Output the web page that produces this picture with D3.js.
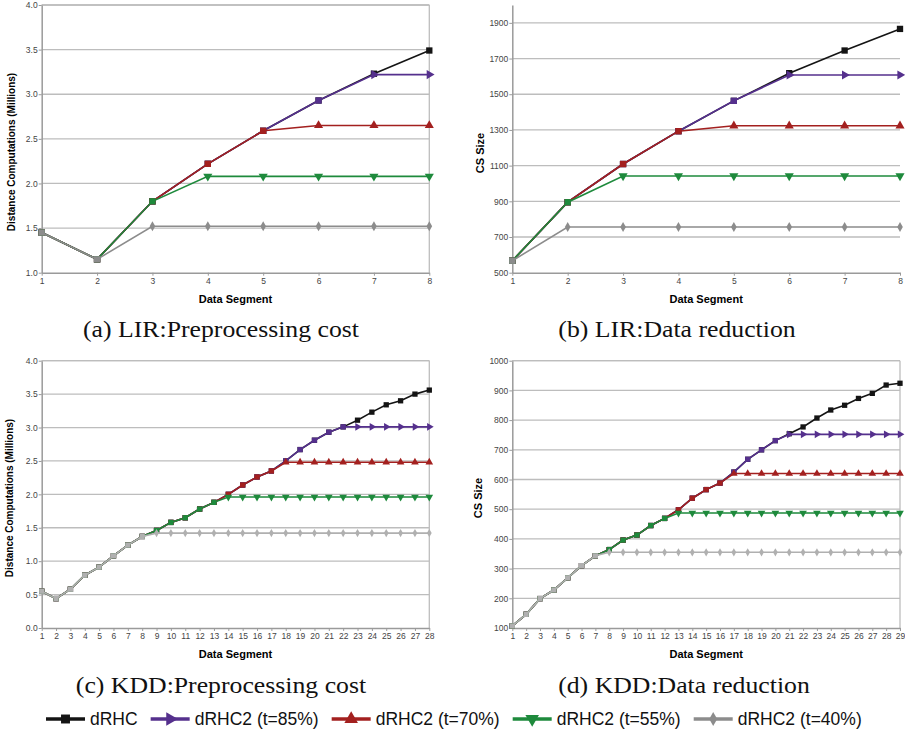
<!DOCTYPE html>
<html>
<head>
<meta charset="utf-8">
<script src="https://cdn.jsdelivr.net/npm/d3@7"></script>
<style>
  body { margin: 0; background: #fff; }
  svg { display: block; }
</style>
</head>
<body>
<svg id="chart" width="905" height="734"></svg>
<script>
// ---- data ----
const seriesNames = ["dRHC", "dRHC2 (t=85%)", "dRHC2 (t=70%)", "dRHC2 (t=55%)", "dRHC2 (t=40%)"];

const lirSegments = [1, 2, 3, 4, 5, 6, 7, 8];
const kddCostSegments = [1, 2, 3, 4, 5, 6, 7, 8, 9, 10, 11, 12, 13, 14, 15, 16, 17, 18, 19, 20, 21, 22, 23, 24, 25, 26, 27, 28];
const kddSizeSegments = [1, 2, 3, 4, 5, 6, 7, 8, 9, 10, 11, 12, 13, 14, 15, 16, 17, 18, 19, 20, 21, 22, 23, 24, 25, 26, 27, 28, 29];

// (a) LIR preprocessing cost, millions
const lirCostRHC = [1.45, 1.15, 1.80, 2.22, 2.59, 2.93, 3.23, 3.49];
const lirCost85 = [1.45, 1.15, 1.80, 2.22, 2.59, 2.93, 3.22, 3.22];
const lirCost70 = [1.45, 1.15, 1.80, 2.22, 2.59, 2.65, 2.65, 2.65];
const lirCost55 = [1.45, 1.15, 1.80, 2.08, 2.08, 2.08, 2.08, 2.08];
const lirCost40 = [1.45, 1.15, 1.52, 1.52, 1.52, 1.52, 1.52, 1.52];

// (b) LIR CS size
const lirSizeRHC = [567, 895, 1109, 1293, 1463, 1618, 1745, 1866];
const lirSize85 = [567, 895, 1109, 1293, 1463, 1608, 1608, 1608];
const lirSize70 = [567, 895, 1109, 1293, 1323, 1323, 1323, 1323];
const lirSize55 = [567, 895, 1042, 1042, 1042, 1042, 1042, 1042];
const lirSize40 = [567, 756, 756, 756, 756, 756, 756, 756];

// (c) KDD preprocessing cost, millions
const kddCostRHC = [0.55, 0.44, 0.58, 0.79, 0.91, 1.08, 1.24, 1.37, 1.46, 1.58, 1.65, 1.78, 1.88, 2.00, 2.14, 2.26, 2.35, 2.50, 2.67, 2.81, 2.93, 3.01, 3.11, 3.23, 3.34, 3.40, 3.50, 3.56];
const kddCost85 = [0.55, 0.44, 0.58, 0.79, 0.91, 1.08, 1.24, 1.37, 1.46, 1.58, 1.65, 1.78, 1.88, 2.00, 2.14, 2.26, 2.35, 2.50, 2.67, 2.81, 2.93, 3.01, 3.01, 3.01, 3.01, 3.01, 3.01, 3.01];
const kddCost70 = [0.55, 0.44, 0.58, 0.79, 0.91, 1.08, 1.24, 1.37, 1.46, 1.58, 1.65, 1.78, 1.88, 2.00, 2.14, 2.26, 2.35, 2.48, 2.48, 2.48, 2.48, 2.48, 2.48, 2.48, 2.48, 2.48, 2.48, 2.48];
const kddCost55 = [0.55, 0.44, 0.58, 0.79, 0.91, 1.08, 1.24, 1.37, 1.46, 1.58, 1.65, 1.78, 1.88, 1.96, 1.96, 1.96, 1.96, 1.96, 1.96, 1.96, 1.96, 1.96, 1.96, 1.96, 1.96, 1.96, 1.96, 1.96];
const kddCost40 = [0.55, 0.44, 0.58, 0.79, 0.91, 1.08, 1.24, 1.37, 1.42, 1.42, 1.42, 1.42, 1.42, 1.42, 1.42, 1.42, 1.42, 1.42, 1.42, 1.42, 1.42, 1.42, 1.42, 1.42, 1.42, 1.42, 1.42, 1.42];

// (d) KDD CS size
const kddSizeRHC = [107, 146, 199, 228, 269, 310, 343, 364, 396, 413, 445, 469, 498, 537, 566, 588, 625, 668, 700, 731, 754, 777, 807, 834, 850, 873, 890, 918, 924];
const kddSize85 = [107, 146, 199, 228, 269, 310, 343, 364, 396, 413, 445, 469, 498, 537, 566, 588, 625, 668, 700, 731, 752, 752, 752, 752, 752, 752, 752, 752, 752];
const kddSize70 = [107, 146, 199, 228, 269, 310, 343, 364, 396, 413, 445, 469, 498, 537, 566, 588, 620, 620, 620, 620, 620, 620, 620, 620, 620, 620, 620, 620, 620];
const kddSize55 = [107, 146, 199, 228, 269, 310, 343, 364, 396, 413, 445, 469, 487, 487, 487, 487, 487, 487, 487, 487, 487, 487, 487, 487, 487, 487, 487, 487, 487];
const kddSize40 = [107, 146, 199, 228, 269, 310, 343, 355, 355, 355, 355, 355, 355, 355, 355, 355, 355, 355, 355, 355, 355, 355, 355, 355, 355, 355, 355, 355, 355];

const captions = ["(a) LIR:Preprocessing cost", "(b) LIR:Data reduction", "(c) KDD:Preprocessing cost", "(d) KDD:Data reduction"];

// ---- styles ----
const colors = ["#141414", "#55308d", "#a3201f", "#1e8a3c", "#8c8c8c"];
const rotations = [0, 90, 0, 180, 0];
const symbols = [d3.symbolSquare, d3.symbolTriangle, d3.symbolTriangle, d3.symbolTriangle, d3.symbolDiamond];

const svg = d3.select("#chart");

function drawPanel(cfg) {
    const { segments, values, left, right, top, bottom, yDomain, yTicks, yFormat, yTitle, grey, border, caption, capX, capY, msize } = cfg;

    const x = d3.scaleLinear().domain([segments[0], segments[segments.length - 1]]).range([left, right]);
    const y = d3.scaleLinear().domain(yDomain).range([bottom, top]);

    const g = svg.append("g");

    // grid
    const gridVals = yTicks.slice(1).concat(border ? [yDomain[1]] : []);
    g.append("g").selectAll("line")
        .data(gridVals)
        .join("line")
        .attr("x1", left).attr("x2", right)
        .attr("y1", d => y(d)).attr("y2", d => y(d))
        .attr("stroke", "#bdbdbd")
        .attr("stroke-width", 1.3);
    if (border) {
        g.append("line")
            .attr("x1", right).attr("x2", right)
            .attr("y1", top).attr("y2", bottom)
            .attr("stroke", "#bdbdbd")
            .attr("stroke-width", 1.3);
    }

    // axes
    g.append("g")
        .attr("transform", `translate(0,${bottom})`)
        .call(d3.axisBottom(x).tickValues(segments).tickFormat(d3.format("d")).tickSize(3).tickSizeOuter(0).tickPadding(2))
        .call(ax => ax.select(".domain").attr("stroke", "#9a9a9a").attr("stroke-width", 1.5))
        .call(ax => ax.selectAll(".tick line").attr("stroke", "#9a9a9a"))
        .call(ax => ax.selectAll("text").attr("fill", "#444").attr("font-size", 8.5).attr("font-family", "Liberation Sans, Arial, sans-serif"));

    g.append("g")
        .attr("transform", `translate(${left},0)`)
        .call(d3.axisLeft(y).tickValues(yTicks).tickFormat(yFormat).tickSize(3).tickSizeOuter(0).tickPadding(1))
        .call(ax => ax.select(".domain").attr("stroke", "#9a9a9a").attr("stroke-width", 1.5))
        .call(ax => ax.selectAll(".tick line").attr("stroke", "#9a9a9a"))
        .call(ax => ax.selectAll("text").attr("fill", "#444").attr("font-size", 8.5).attr("font-family", "Liberation Sans, Arial, sans-serif"));

    // axis titles
    g.append("text")
        .attr("x", (left + right) / 2)
        .attr("y", bottom + 30)
        .attr("text-anchor", "middle")
        .attr("font-family", "Liberation Sans, Arial, sans-serif")
        .attr("font-weight", "bold")
        .attr("font-size", 11)
        .text("Data Segment");

    g.append("text")
        .attr("transform", `translate(${cfg.yTitleX},${cfg.yTitleY}) rotate(-90)`)
        .attr("text-anchor", "middle")
        .attr("font-family", "Liberation Sans, Arial, sans-serif")
        .attr("font-weight", "bold")
        .attr("font-size", cfg.yTitleSize)
        .text(yTitle);

    // series, dRHC first so the thresholded ones sit on top
    const base = values[0];
    values.forEach((vals, si) => {
        const col = si === 4 ? grey : colors[si];
        const pts = segments.map((s, i) => ({ s, v: vals[i], shared: si > 0 && vals[i] === base[i] }));
        g.append("path")
            .datum(pts)
            .attr("fill", "none")
            .attr("stroke", col)
            .attr("stroke-width", 1.6)
            .attr("d", d3.line().x(d => x(d.s)).y(d => y(d.v)));

        g.append("g").selectAll("path")
            .data(pts)
            .join("path")
            .attr("transform", d => `translate(${x(d.s)},${y(d.v)}) rotate(${d.shared ? 0 : rotations[si]})`)
            .attr("d", d => {
                if (d.shared || si === 0) return d3.symbol(d3.symbolSquare, msize)();
                if (si === 4) return d3.symbol(d3.symbolDiamond, msize * 0.7)();
                return d3.symbol(d3.symbolTriangle, msize * 0.9)();
            })
            .attr("fill", col);
    });

    // caption (serif, stretched a little to mimic the LaTeX font width)
    svg.append("text")
        .attr("transform", `translate(${capX},${capY}) scale(1.12,1)`)
        .attr("text-anchor", "middle")
        .attr("font-family", "Liberation Serif, 'DejaVu Serif', serif")
        .attr("font-size", 23)
        .attr("fill", "#111")
        .text(caption);
}

const fmt1 = d3.format(".1f");
const fmt0 = d3.format("d");

drawPanel({
    segments: lirSegments,
    values: [lirCostRHC, lirCost85, lirCost70, lirCost55, lirCost40],
    left: 41.7, right: 429.3, top: 5, bottom: 272.7,
    yDomain: [1, 4], yTicks: [1, 1.5, 2, 2.5, 3, 3.5, 4], yFormat: fmt1,
    yTitle: "Distance Computations (Millions)", yTitleX: 15, yTitleY: 152, yTitleSize: 10,
    grey: "#8c8c8c", border: true, msize: 40,
    caption: captions[0], capX: 221, capY: 337
});

drawPanel({
    segments: lirSegments,
    values: [lirSizeRHC, lirSize85, lirSize70, lirSize55, lirSize40],
    left: 512.3, right: 900, top: 5, bottom: 272.7,
    yDomain: [500, 2000], yTicks: [500, 700, 900, 1100, 1300, 1500, 1700, 1900], yFormat: fmt0,
    yTitle: "CS Size", yTitleX: 484, yTitleY: 153, yTitleSize: 11,
    grey: "#8c8c8c", border: false, msize: 40,
    caption: captions[1], capX: 677, capY: 337
});

drawPanel({
    segments: kddCostSegments,
    values: [kddCostRHC, kddCost85, kddCost70, kddCost55, kddCost40],
    left: 41.7, right: 429.3, top: 360.7, bottom: 628,
    yDomain: [0, 4], yTicks: [0, 0.5, 1, 1.5, 2, 2.5, 3, 3.5, 4], yFormat: fmt1,
    yTitle: "Distance Computations (Millions)", yTitleX: 13, yTitleY: 498, yTitleSize: 10,
    grey: "#b0b0b0", border: true, msize: 28,
    caption: captions[2], capX: 221, capY: 693
});

drawPanel({
    segments: kddSizeSegments,
    values: [kddSizeRHC, kddSize85, kddSize70, kddSize55, kddSize40],
    left: 512.3, right: 900, top: 360.7, bottom: 628,
    yDomain: [100, 1000], yTicks: [100, 200, 300, 400, 500, 600, 700, 800, 900, 1000], yFormat: fmt0,
    yTitle: "CS Size", yTitleX: 482, yTitleY: 498, yTitleSize: 11,
    grey: "#b0b0b0", border: true, msize: 28,
    caption: captions[3], capX: 684, capY: 693
});

// ---- legend ----
const legend = svg.append("g").attr("transform", "translate(0,719)");
let lx = 46;
seriesNames.forEach((name, i) => {
    const item = legend.append("g").attr("transform", `translate(${lx},0)`);
    item.append("line")
        .attr("x1", 0).attr("x2", 39)
        .attr("stroke", colors[i])
        .attr("stroke-width", 3.5);
    item.append("path")
        .attr("transform", `translate(19.5,0) rotate(${rotations[i]})`)
        .attr("d", d3.symbol(symbols[i], i === 4 ? 55 : 80)())
        .attr("fill", colors[i]);
    const t = item.append("text")
        .attr("x", 44)
        .attr("dy", "0.35em")
        .attr("font-family", "Liberation Sans, Arial, sans-serif")
        .attr("font-size", 17.5)
        .attr("fill", "#111")
        .text(name);
    lx += 44 + t.node().getComputedTextLength() + 13;
});
</script>
</body>
</html>
